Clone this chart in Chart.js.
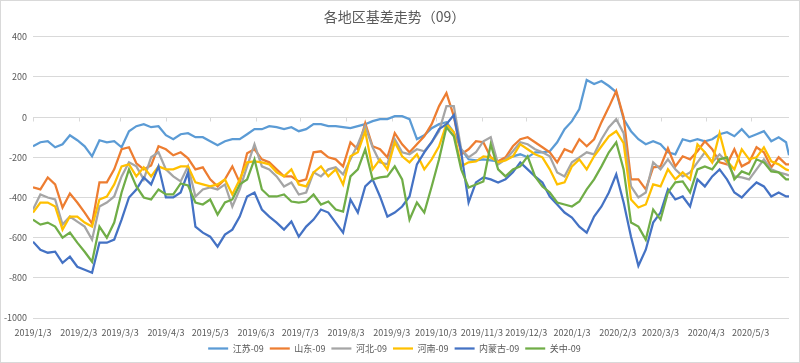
<!DOCTYPE html>
<html lang="zh-CN">
<head>
<meta charset="utf-8">
<title>各地区基差走势（09）</title>
<script src="https://cdn.jsdelivr.net/npm/chart.js@4.4.1/dist/chart.umd.min.js"></script>
<style>
  html, body { margin: 0; padding: 0; background: #fff; }
  #wrap { position: relative; width: 800px; height: 363px; }
</style>
</head>
<body>
<div id="wrap"><canvas id="chart-basis"></canvas></div>
<script>
'use strict';

/* ─── Data (sampled every 5 days) ───────────────────────────── */
const DATES = [
  '2019-01-03','2019-01-08','2019-01-13','2019-01-18','2019-01-23','2019-01-28','2019-02-02','2019-02-07','2019-02-12','2019-02-17',
  '2019-02-22','2019-02-27','2019-03-04','2019-03-09','2019-03-14','2019-03-19','2019-03-24','2019-03-29','2019-04-03','2019-04-08',
  '2019-04-13','2019-04-18','2019-04-23','2019-04-28','2019-05-03','2019-05-08','2019-05-13','2019-05-18','2019-05-23','2019-05-28',
  '2019-06-02','2019-06-07','2019-06-12','2019-06-17','2019-06-22','2019-06-27','2019-07-02','2019-07-07','2019-07-12','2019-07-17',
  '2019-07-22','2019-07-27','2019-08-01','2019-08-06','2019-08-11','2019-08-16','2019-08-21','2019-08-26','2019-08-31','2019-09-05',
  '2019-09-10','2019-09-15','2019-09-20','2019-09-25','2019-09-30','2019-10-05','2019-10-10','2019-10-15','2019-10-20','2019-10-25',
  '2019-10-30','2019-11-04','2019-11-09','2019-11-14','2019-11-19','2019-11-24','2019-11-29','2019-12-04','2019-12-09','2019-12-14',
  '2019-12-19','2019-12-24','2019-12-29','2020-01-03','2020-01-08','2020-01-13','2020-01-18','2020-01-23','2020-01-28','2020-02-02',
  '2020-02-07','2020-02-12','2020-02-17','2020-02-22','2020-02-27','2020-03-03','2020-03-08','2020-03-13','2020-03-18','2020-03-23',
  '2020-03-28','2020-04-02','2020-04-07','2020-04-12','2020-04-17','2020-04-22','2020-04-27','2020-05-02','2020-05-07','2020-05-12',
  '2020-05-17','2020-05-22','2020-05-27','2020-05-29'
];

const TICK_DATES = [
  '2019/1/3','2019/2/3','2019/3/3','2019/4/3','2019/5/3','2019/6/3','2019/7/3','2019/8/3','2019/9/3',
  '2019/10/3','2019/11/3','2019/12/3','2020/1/3','2020/2/3','2020/3/3','2020/4/3','2020/5/3'
];

const JIANGSU = [
  -145,-125,-120,-150,-135,-90,-115,-145,-195,-115,
  -125,-120,-150,-70,-45,-35,-50,-45,-90,-110,
  -85,-80,-100,-100,-120,-140,-120,-110,-110,-85,
  -60,-60,-45,-50,-60,-50,-70,-60,-35,-35,
  -45,-45,-50,-55,-45,-35,-20,-10,-10,5,
  5,-10,-110,-90,-55,-35,-25,-75,-160,-210,
  -215,-210,-215,-220,-210,-195,-185,-200,-175,-175,
  -170,-125,-60,-20,40,185,165,180,155,125,
  -10,-70,-110,-135,-120,-135,-175,-185,-110,-120,
  -110,-120,-110,-85,-75,-95,-60,-100,-85,-70,
  -120,-100,-125,-190
];

const SHANDONG = [
  -350,-360,-300,-335,-450,-380,-425,-475,-530,-325,
  -325,-260,-160,-150,-230,-260,-240,-145,-160,-190,
  -175,-205,-260,-250,-310,-345,-310,-245,-325,-180,
  -160,-210,-225,-260,-295,-295,-320,-310,-175,-170,
  -200,-210,-245,-125,-160,-30,-145,-160,-200,-80,
  -135,-175,-135,-95,-35,55,120,5,-185,-160,
  -120,-125,-200,-220,-200,-145,-110,-100,-125,-150,
  -175,-225,-160,-175,-110,-145,-110,-25,50,130,
  0,-310,-310,-360,-250,-245,-155,-245,-195,-210,
  -170,-120,-160,-225,-235,-160,-245,-225,-150,-175,
  -250,-200,-235,-235
];

const HEBEI = [
  -460,-385,-400,-410,-535,-495,-520,-545,-610,-445,
  -425,-395,-295,-225,-245,-310,-200,-175,-260,-295,
  -320,-245,-395,-360,-350,-360,-335,-445,-360,-245,
  -135,-245,-260,-295,-345,-325,-385,-375,-275,-295,
  -260,-250,-285,-210,-135,-45,-150,-225,-235,-110,
  -175,-185,-160,-170,-125,-70,55,55,-160,-200,
  -175,-120,-100,-235,-210,-170,-125,-135,-160,-175,
  -195,-275,-295,-225,-200,-175,-185,-110,-50,-10,
  -80,-345,-400,-375,-225,-260,-210,-260,-295,-275,
  -225,-175,-225,-185,-225,-295,-300,-310,-260,-210,
  -260,-275,-285,-290
];

const HENAN = [
  -475,-425,-425,-445,-560,-495,-495,-525,-545,-410,
  -395,-335,-245,-235,-295,-250,-295,-245,-260,-260,
  -245,-245,-325,-335,-345,-335,-310,-385,-310,-225,
  -220,-225,-235,-275,-295,-260,-335,-345,-275,-245,
  -295,-260,-335,-195,-175,-70,-260,-210,-260,-125,
  -195,-225,-185,-260,-210,-145,-35,-75,-245,-225,
  -220,-195,-200,-225,-215,-195,-135,-160,-185,-200,
  -260,-335,-325,-245,-210,-260,-195,-145,-95,-70,
  -130,-410,-450,-435,-335,-345,-260,-310,-275,-310,
  -135,-175,-225,-80,-220,-260,-160,-210,-200,-150,
  -220,-235,-260,-265
];

const NEIMENGGU = [
  -620,-660,-675,-670,-725,-695,-745,-760,-775,-625,
  -625,-610,-510,-400,-360,-300,-335,-245,-400,-400,
  -375,-275,-545,-575,-595,-645,-585,-560,-495,-395,
  -375,-460,-495,-525,-560,-520,-595,-545,-510,-460,
  -475,-525,-575,-410,-475,-345,-310,-395,-495,-475,
  -445,-395,-235,-175,-125,-60,-35,10,-175,-425,
  -325,-300,-310,-325,-310,-275,-225,-260,-295,-325,
  -395,-435,-475,-500,-545,-575,-495,-445,-375,-285,
  -425,-595,-740,-660,-525,-475,-360,-410,-395,-445,
  -310,-345,-295,-260,-310,-375,-400,-360,-325,-345,
  -395,-375,-395,-395
];

const GUANZHONG = [
  -510,-535,-525,-545,-600,-575,-625,-670,-720,-545,
  -600,-525,-375,-260,-345,-400,-410,-360,-385,-385,
  -330,-340,-425,-435,-410,-485,-425,-410,-335,-310,
  -210,-360,-395,-395,-385,-420,-425,-420,-385,-435,
  -420,-460,-470,-295,-260,-160,-310,-300,-295,-245,
  -310,-510,-425,-475,-345,-210,-50,-95,-260,-350,
  -335,-320,-135,-260,-295,-260,-245,-195,-295,-345,
  -375,-425,-435,-445,-420,-360,-310,-245,-175,-125,
  -260,-525,-545,-610,-460,-510,-375,-325,-320,-375,
  -260,-245,-260,-210,-200,-310,-270,-285,-210,-225,
  -270,-275,-310,-310
];

const SERIES_NAMES = ['江苏-09', '山东-09', '河北-09', '河南-09', '内蒙古-09', '关中-09'];
const SERIES_DATA  = [JIANGSU, SHANDONG, HEBEI, HENAN, NEIMENGGU, GUANZHONG];

(function () {
  /* ─── Style ─────────────────────────────────────────────────── */
  const COLORS   = ['#5B9BD5', '#ED7D31', '#A5A5A5', '#FFC000', '#4472C4', '#70AD47'];
  const GRID     = '#D9D9D9';
  const TEXT     = '#595959';
  const FONT     = "'Noto Sans CJK SC','Noto Sans',sans-serif";

  /* ─── Date helpers: x axis is days since first date ─────────── */
  const toUTC = s => {
    const [y, m, d] = s.split(/[-/]/).map(Number);
    return Date.UTC(y, m - 1, d);
  };
  const BASE = toUTC(DATES[0]);
  const dayOf = s => Math.round((toUTC(s) - BASE) / 86400000);

  /* ─── Plugins ───────────────────────────────────────────────── */
  const frame = {
    id: 'frame',
    beforeDraw(chart) {
      const { ctx, width, height } = chart;
      ctx.save();
      ctx.fillStyle = '#fff';
      ctx.fillRect(0, 0, width, height);
      ctx.strokeStyle = GRID;
      ctx.lineWidth = 1;
      ctx.strokeRect(0.5, 0.5, width - 1, height - 1);
      ctx.restore();
    },
  };

  // Excel puts the date axis line at 0, with tick marks there
  const zeroTicks = {
    id: 'zeroTicks',
    beforeDatasetsDraw(chart) {
      const { ctx, scales: { x, y } } = chart;
      const y0 = Math.round(y.getPixelForValue(0)) + 0.5;
      ctx.save();
      ctx.strokeStyle = GRID;
      ctx.lineWidth = 1;
      ctx.beginPath();
      x.ticks.forEach(t => {
        const px = Math.round(x.getPixelForValue(t.value)) + 0.5;
        ctx.moveTo(px, y0);
        ctx.lineTo(px, y0 + 4);
      });
      ctx.stroke();
      ctx.restore();
    },
  };

  /* ─── Chart ─────────────────────────────────────────────────── */
  function init() {
    const xs = DATES.map(dayOf);

    const datasets = SERIES_NAMES.map((name, i) => ({
      label: name,
      data: SERIES_DATA[i].map((v, k) => ({ x: xs[k], y: v })),
      borderColor: COLORS[i],
      backgroundColor: COLORS[i],
      borderWidth: 2.25,
      pointRadius: 0,
      tension: 0,
      fill: false,
      order: SERIES_NAMES.length - i,   // later series on top, as in Excel
    }));

    new Chart(document.getElementById('chart-basis'), {
      type: 'line',
      data: { datasets },
      plugins: [frame, zeroTicks],
      options: {
        responsive: true,
        maintainAspectRatio: false,
        animation: false,
        layout: { padding: { left: 0, right: 11, top: 0, bottom: 0 } },
        plugins: {
          title: {
            display: true,
            text: '各地区基差走势（09）',
            color: TEXT,
            font: { family: FONT, size: 14, weight: 'normal' },
            padding: { top: 8, bottom: 12 },
          },
          legend: {
            position: 'bottom',
            labels: {
              usePointStyle: true,
              pointStyle: 'line',
              pointStyleWidth: 20,
              color: TEXT,
              padding: 6,
              font: { family: FONT, size: 9 },
              sort: (a, b) => a.datasetIndex - b.datasetIndex,
            },
          },
          tooltip: { enabled: false },
        },
        scales: {
          x: {
            type: 'linear',
            min: 0,
            max: xs[xs.length - 1],
            grid: { display: false, drawTicks: false },
            border: { display: false },
            afterBuildTicks: s => { s.ticks = TICK_DATES.map(t => ({ value: dayOf(t) })); },
            afterFit: s => { s.height = 20; },
            ticks: {
              autoSkip: false,
              maxRotation: 0,
              padding: 9,
              color: TEXT,
              font: { family: FONT, size: 9 },
              callback: (v, i) => TICK_DATES[i],
            },
          },
          y: {
            min: -1000,
            max: 400,
            grid: { color: GRID, drawTicks: false },
            border: { display: false },
            afterFit: s => { s.width = 33; },
            ticks: {
              stepSize: 200,
              padding: 6,
              color: TEXT,
              font: { family: FONT, size: 9 },
              callback: v => String(v),
            },
          },
        },
      },
    });
  }

  init();
})();
</script>
</body>
</html>
